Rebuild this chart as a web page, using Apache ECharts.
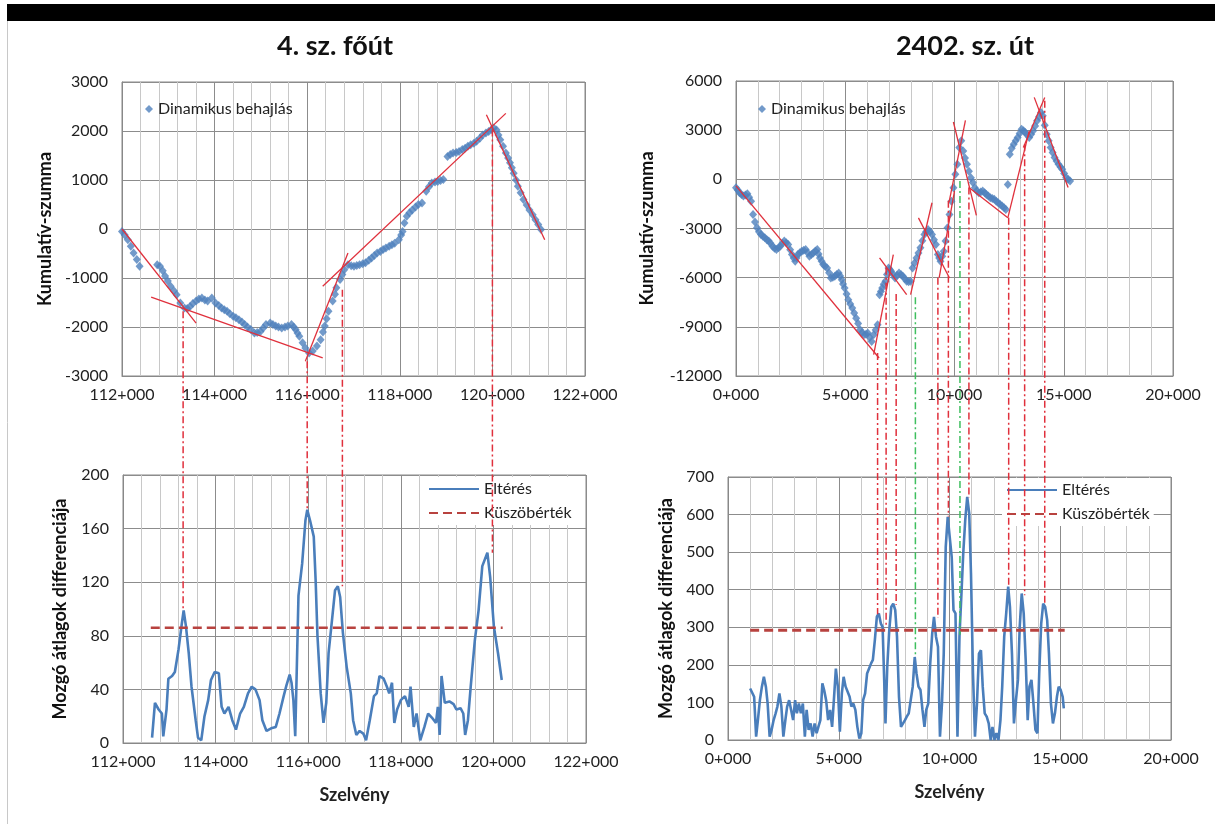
<!DOCTYPE html>
<html>
<head>
<meta charset="utf-8">
<style>
  body { margin: 0; background: #fff; }
  #main { width: 1215px; height: 824px; }
</style>
<script src="https://cdn.jsdelivr.net/npm/echarts@6/dist/echarts.min.js"></script>
</head>
<body>
<div id="main"></div>
<script>
// 4. sz. főút - kumulatív szumma (szelvény [m], érték)
var tlPoints = [
  [112000,-50],[112060,-120],[112126,-220],[112190,-350],[112250,-490],[112320,-620],[112380,-760],
  [112760,-730],[112820,-760],[112880,-850],[112930,-960],[112990,-1060],[113050,-1170],[113120,-1260],
  [113180,-1340],[113260,-1510],[113350,-1610],[113410,-1620],[113470,-1580],[113530,-1520],[113600,-1470],
  [113660,-1430],[113725,-1410],[113790,-1450],[113850,-1470],[113940,-1410],[114020,-1510],[114090,-1560],
  [114150,-1610],[114210,-1650],[114270,-1680],[114330,-1730],[114400,-1780],[114460,-1810],[114525,-1850],
  [114590,-1900],[114650,-1950],[114710,-2000],[114780,-2050],[114860,-2120],[114920,-2110],[114990,-2090],
  [115050,-2020],[115110,-1950],[115200,-1920],[115260,-1950],[115320,-1980],[115380,-2000],[115450,-2020],
  [115520,-2000],[115580,-1980],[115660,-1950],[115710,-2000],[115750,-2050],[115790,-2120],[115830,-2190],
  [115900,-2320],[115960,-2430],[116040,-2530],[116120,-2490],[116210,-2390],[116290,-2260],[116340,-2100],
  [116380,-1980],[116420,-1830],[116460,-1680],[116550,-1470],[116600,-1330],[116630,-1200],[116710,-1030],
  [116760,-930],[116800,-830],[116880,-730],[116950,-750],[117010,-760],[117070,-745],[117130,-730],
  [117200,-710],[117260,-690],[117330,-640],[117390,-590],[117450,-540],[117510,-490],[117580,-460],
  [117640,-420],[117700,-390],[117770,-350],[117830,-320],[117890,-290],[117980,-220],[118030,-120],
  [118060,-50],[118100,120],[118150,260],[118210,330],[118270,390],[118340,450],[118400,500],[118480,530],
  [118570,770],[118630,860],[118690,940],[118760,960],[118820,970],[118880,990],[118940,1010],[119030,1480],
  [119090,1520],[119150,1550],[119220,1560],[119280,1580],[119350,1620],[119410,1650],[119470,1690],
  [119530,1720],[119600,1750],[119660,1790],[119730,1850],[119790,1920],[119860,1960],[119920,1990],
  [119980,2030],[120030,2060],[120090,2020],[120130,1920],[120170,1820],[120230,1690],[120290,1550],
  [120340,1450],[120380,1350],[120420,1250],[120460,1140],[120510,1000],[120550,870],[120610,740],
  [120670,600],[120740,490],[120800,390],[120870,290],[120930,190],[120990,90],[121050,-10]
];
// illesztett szakaszok [x1,y1,x2,y2]
var tlFits = [
  [112000,0,113600,-1920],
  [112630,-1390,116335,-2630],
  [115960,-2700,116880,-490],
  [116335,-1170,120290,2360],
  [119870,2330,121130,-220]
];
// mozgó átlagok differenciája
var blDiff = [
  [112628,4],[112690,30],[112770,25],[112840,22],[112870,5],[112940,25],[112980,48],[113060,50],[113120,53],
  [113200,70],[113270,89],[113310,99],[113360,87],[113420,67],[113480,42],[113570,17],[113620,4],[113690,2],
  [113760,20],[113840,32],[113900,47],[113980,53],[114070,52],[114130,27],[114190,22],[114280,27],[114360,17],
  [114440,10],[114530,22],[114610,27],[114700,37],[114780,42],[114860,40],[114950,32],[115010,17],[115100,9],
  [115200,11],[115300,12],[115380,22],[115470,35],[115530,43],[115600,51],[115640,45],[115680,32],[115720,5],
  [115790,110],[115870,134],[115940,166],[115980,174],[116040,166],[116120,154],[116160,122],[116200,80],
  [116270,37],[116330,15],[116390,30],[116440,67],[116500,87],[116580,114],[116640,117],[116690,109],
  [116750,82],[116830,57],[116920,37],[116970,17],[117040,6],[117110,9],[117190,7],[117250,2],[117330,17],
  [117420,35],[117480,37],[117540,50],[117630,48],[117700,42],[117750,37],[117810,45],[117860,15],[117920,25],
  [118000,32],[118090,35],[118170,27],[118210,42],[118280,12],[118340,22],[118420,2],[118510,12],[118590,22],
  [118670,19],[118760,15],[118800,27],[118840,6],[118880,50],[118950,30],[119050,31],[119140,29],[119200,25],
  [119290,26],[119350,22],[119390,6],[119450,17],[119510,42],[119600,77],[119680,99],[119760,132],[119870,142],
  [119930,124],[120010,87],[120100,67],[120180,47]
];
var blThreshold = [[112600,86],[120200,86]];
// függőleges segédvonalak: [szelvény, felső pont, csúcs alul]
var tlGuides = [[113320,-1680,100],[116000,-2700,174],[116760,-1240,117],[120000,2030,142]];

// 2402. sz. út
var trPoints = [
  [0,-510],[80,-650],[160,-820],[250,-930],[340,-1020],[430,-950],[520,-880],[600,-1100],[690,-1330],
  [780,-2140],[870,-2600],[960,-2960],[1050,-3200],[1140,-3370],[1230,-3470],[1320,-3570],[1410,-3680],
  [1500,-3770],[1580,-3900],[1670,-4080],[1760,-4200],[1850,-4280],[1940,-4180],[2030,-4080],[2120,-3900],
  [2210,-3770],[2300,-3870],[2390,-3980],[2480,-4300],[2560,-4590],[2640,-4800],[2710,-5000],[2770,-4800],
  [2830,-4590],[2920,-4480],[3010,-4390],[3100,-4330],[3190,-4280],[3280,-4480],[3360,-4690],[3450,-4590],
  [3540,-4490],[3630,-4380],[3720,-4280],[3780,-4550],[3840,-4800],[3920,-5000],[3990,-5200],[4080,-5300],
  [4170,-5410],[4260,-5700],[4340,-6020],[4430,-5970],[4520,-5920],[4610,-5810],[4700,-5710],[4770,-5900],
  [4840,-6120],[4900,-6380],[4970,-6630],[5060,-7000],[5140,-7340],[5230,-7600],[5320,-7850],[5410,-8150],
  [5500,-8470],[5590,-8800],[5680,-9180],[5770,-9350],[5860,-9490],[5950,-9450],[6030,-9380],[6120,-9650],
  [6210,-9890],[6300,-9490],[6390,-9200],[6480,-8870],[6570,-7040],[6630,-6850],[6690,-6630],[6760,-6400],
  [6840,-6220],[6910,-5800],[6980,-5410],[7040,-5500],[7100,-5610],[7190,-5800],[7280,-6020],[7370,-5850],
  [7460,-5710],[7550,-5800],[7640,-5920],[7720,-6050],[7810,-6220],[7900,-6250],[7990,-6220],[8080,-5410],
  [8170,-5100],[8260,-4800],[8350,-4500],[8440,-4180],[8530,-3750],[8620,-3370],[8700,-3200],[8790,-3060],
  [8880,-3200],[8970,-3370],[9060,-3680],[9150,-3980],[9240,-4590],[9300,-4800],[9360,-5000],[9440,-4700],
  [9510,-4390],[9590,-3770],[9680,-2960],[9770,-2140],[9860,-1330],[9950,-510],[10040,310],[10130,920],
  [10220,1940],[10310,2350],[10400,1730],[10480,1300],[10570,920],[10660,500],[10750,100],[10840,-200],
  [10930,-510],[11020,-700],[11110,-820],[11200,-780],[11290,-710],[11380,-820],[11460,-920],[11550,-1020],
  [11640,-1120],[11730,-1170],[11820,-1220],[11910,-1330],[12000,-1430],[12090,-1530],[12180,-1630],
  [12270,-1740],[12350,-1840],[12440,-310],[12530,1530],[12620,1900],[12710,2140],[12800,2350],[12890,2550],
  [12980,2800],[13070,3060],[13160,2960],[13240,2860],[13330,2700],[13420,2550],[13510,2750],[13600,2960],
  [13690,3250],[13780,3570],[13870,3820],[13960,4080],[14040,3880],[14130,3300],[14220,2750],[14310,2350],
  [14400,1940],[14490,1630],[14580,1330],[14670,1120],[14760,920],[14850,760],[14930,610],[15020,350],
  [15110,100],[15200,0],[15290,-100]
];
var trFits = [
  [0,-400,6550,-10900],
  [6300,-10700,7200,-4600],
  [6570,-4790,7810,-7040],
  [7990,-7040,8970,-1430],
  [8350,-2350,9770,-6020],
  [9300,-6000,10000,-700],
  [9750,-1400,10500,3600],
  [9950,3500,11000,-2200],
  [10660,-500,12440,-2350],
  [12440,-2350,13420,2960],
  [13150,1940,14130,5000],
  [13650,5000,15200,-500]
];
var brDiff = [
  [1000,137],[1090,133],[1180,115],[1270,9],[1350,53],[1440,106],[1530,142],[1620,168],[1710,142],[1790,97],
  [1880,9],[1970,27],[2060,53],[2150,71],[2230,89],[2320,124],[2410,89],[2500,9],[2590,53],[2670,89],[2760,106],
  [2850,80],[2940,53],[3030,106],[3110,71],[3200,97],[3290,71],[3380,97],[3470,9],[3550,80],[3640,27],[3730,44],
  [3820,9],[3910,44],[4000,18],[4080,35],[4170,53],[4260,151],[4340,133],[4430,106],[4520,53],[4610,80],[4700,35],
  [4780,106],[4870,190],[4960,142],[5050,22],[5140,124],[5220,168],[5310,142],[5400,146],[5490,115],[5570,89],
  [5660,97],[5750,80],[5840,35],[5930,4],[6020,18],[6100,106],[6190,124],[6280,177],[6370,182],[6460,204],
  [6540,213],[6630,266],[6720,328],[6810,337],[6900,310],[6980,301],[7070,124],[7110,44],[7190,195],[7280,292],
  [7370,354],[7460,363],[7550,346],[7630,275],[7720,115],[7810,35],[7900,35],[7990,53],[8070,62],[8160,71],
  [8250,71],[8340,142],[8430,221],[8510,177],[8600,142],[8690,133],[8780,80],[8870,35],[8950,80],[9040,97],
  [9130,204],[9220,284],[9300,328],[9390,275],[9480,248],[9570,9],[9660,97],[9740,230],[9830,514],[9920,594],
  [10010,540],[10100,487],[10180,346],[10270,337],[10360,9],[10450,275],[10540,390],[10620,496],[10710,585],
  [10800,647],[10890,603],[10970,443],[11060,177],[11150,9],[11240,97],[11330,230],[11420,239],[11500,142],
  [11590,71],[11680,62],[11770,44],[11860,0],[11940,35],[12030,0],[12120,18],[12210,0],[12300,53],[12380,142],
  [12470,275],[12560,337],[12650,408],[12730,354],[12820,230],[12910,44],[13000,106],[13090,160],[13170,301],
  [13260,390],[13350,337],[13440,213],[13530,53],[13610,142],[13700,160],[13790,97],[13880,27],[13970,18],
  [14050,177],[14140,310],[14230,363],[14320,354],[14410,319],[14490,230],[14580,97],[14670,44],[14760,71],
  [14850,115],[14930,142],[15020,133],[15110,115],[15160,84]
];
var brThreshold = [[1000,292],[15200,292]];
// [szelvény, felső pont, csúcs alul, szín]
var trGuides = [
  [6480,-10600,335,'r'],[6870,-5400,300,'r'],[7330,-7000,360,'r'],[8210,-7200,220,'g'],
  [9240,-6000,325,'r'],[9720,-1300,595,'r'],[10250,-100,280,'g'],[10660,-500,645,'r'],
  [12480,-2350,405,'r'],[13210,2140,385,'r'],[14130,4800,365,'r']
];

var FONT = 'Lato';
var RED = '#e0303c';
var GREEN = '#3fbf5f';
var BLUE = '#4a7ebb';

function station(v) {
  var km = Math.floor(v / 1000);
  var m = v - km * 1000;
  return km + '+' + String(m).padStart(3, '0');
}

function fitLines(fits) {
  return fits.map(function (f) {
    return [{ coord: [f[0], f[1]] }, { coord: [f[2], f[3]] }];
  });
}

function xAxis(grid, min, max, interval, name) {
  return {
    type: 'value', gridIndex: grid, min: min, max: max, interval: interval,
    name: name || '', nameLocation: 'middle', nameGap: 43,
    nameTextStyle: { fontFamily: FONT, fontWeight: 'bold', fontSize: 18, color: '#222' },
    axisLine: { show: true, onZero: false, lineStyle: { color: '#888' } },
    axisTick: { show: false },
    axisLabel: { formatter: station, color: '#222', fontSize: 16, fontFamily: FONT, margin: 11 },
    splitLine: { show: true, lineStyle: { color: '#8c8c8c' } },
    minorTick: { show: false, splitNumber: 5 },
    minorSplitLine: { show: true, lineStyle: { color: '#c8c8c8' } }
  };
}

function yAxis(grid, min, max, interval, name, gap) {
  return {
    type: 'value', gridIndex: grid, min: min, max: max, interval: interval,
    name: name, nameLocation: 'middle', nameGap: gap,
    nameTextStyle: { fontFamily: FONT, fontWeight: 'bold', fontSize: 18, color: '#111' },
    axisLine: { show: true, onZero: false, lineStyle: { color: '#888' } },
    axisTick: { show: false },
    axisLabel: { formatter: function (v) { return String(v); }, color: '#222', fontSize: 16, fontFamily: FONT, margin: 14 },
    splitLine: { show: true, lineStyle: { color: '#8c8c8c' } }
  };
}

var legendText = { fontFamily: FONT, fontSize: 16, color: '#222' };

var chart = echarts.init(document.getElementById('main'));

var option = {
  backgroundColor: '#fff',
  animation: false,
  title: [
    { text: '4. sz. főút', left: 330, top: 28, textAlign: 'center',
      textStyle: { fontFamily: FONT, fontWeight: 'bold', fontSize: 27, color: '#111' } },
    { text: '2402. sz. út', left: 960, top: 28, textAlign: 'center',
      textStyle: { fontFamily: FONT, fontWeight: 'bold', fontSize: 27, color: '#111' } }
  ],
  grid: [
    { left: 122, top: 82, width: 463, height: 294, show: true, borderColor: '#888' },
    { left: 123, top: 475, width: 463, height: 268, show: true, borderColor: '#888' },
    { left: 736, top: 81, width: 437, height: 295, show: true, borderColor: '#888' },
    { left: 728, top: 477, width: 443, height: 263, show: true, borderColor: '#888' }
  ],
  xAxis: [
    xAxis(0, 112000, 122000, 2000),
    xAxis(1, 112000, 122000, 2000, 'Szelvény'),
    xAxis(2, 0, 20000, 5000),
    xAxis(3, 0, 20000, 5000, 'Szelvény')
  ],
  yAxis: [
    yAxis(0, -3000, 3000, 1000, 'Kumulatív-szumma', 68),
    yAxis(1, 0, 200, 40, 'Mozgó átlagok differenciája', 54),
    yAxis(2, -12000, 6000, 3000, 'Kumulatív-szumma', 80),
    yAxis(3, 0, 700, 100, 'Mozgó átlagok differenciája', 53)
  ],
  legend: [
    { left: 140, top: 96, data: ['Dinamikus behajlás'], itemWidth: 8, itemHeight: 8, textStyle: legendText },
    { left: 753, top: 96, data: ['Dinamikus behajlás'], itemWidth: 8, itemHeight: 8, textStyle: legendText },
    { left: 424, top: 477, orient: 'vertical', data: ['Eltérés', 'Küszöbérték'], itemWidth: 50, itemHeight: 12,
      itemGap: 8, backgroundColor: '#fff', padding: [4, 4, 4, 4], textStyle: legendText,
      itemStyle: { opacity: 0 } },
    { left: 1002, top: 478, orient: 'vertical', data: ['Eltérés', 'Küszöbérték'], itemWidth: 50, itemHeight: 12,
      itemGap: 8, backgroundColor: '#fff', padding: [4, 4, 4, 4], textStyle: legendText,
      itemStyle: { opacity: 0 } }
  ],
  series: [
    {
      name: 'Dinamikus behajlás', type: 'scatter', xAxisIndex: 0, yAxisIndex: 0,
      symbol: 'diamond', symbolSize: [8, 9], itemStyle: { color: '#4f81bd' },
      data: tlPoints,
      markLine: { silent: true, symbol: 'none', label: { show: false },
        lineStyle: { color: RED, width: 1.3, type: 'solid' }, data: fitLines(tlFits) }
    },
    {
      name: 'Eltérés', type: 'line', xAxisIndex: 1, yAxisIndex: 1, symbol: 'none',
      lineStyle: { color: BLUE, width: 2.6 }, itemStyle: { color: BLUE }, data: blDiff
    },
    {
      name: 'Küszöbérték', type: 'line', xAxisIndex: 1, yAxisIndex: 1, symbol: 'none',
      lineStyle: { color: '#b8423f', width: 2.6, type: [9, 5] }, itemStyle: { color: '#b8423f' }, data: blThreshold
    },
    {
      name: 'Dinamikus behajlás', type: 'scatter', xAxisIndex: 2, yAxisIndex: 2,
      symbol: 'diamond', symbolSize: [8, 9], itemStyle: { color: '#4f81bd' },
      data: trPoints,
      markLine: { silent: true, symbol: 'none', label: { show: false },
        lineStyle: { color: RED, width: 1.3, type: 'solid' }, data: fitLines(trFits) }
    },
    {
      name: 'Eltérés', type: 'line', xAxisIndex: 3, yAxisIndex: 3, symbol: 'none',
      lineStyle: { color: BLUE, width: 2.6 }, itemStyle: { color: BLUE }, data: brDiff
    },
    {
      name: 'Küszöbérték', type: 'line', xAxisIndex: 3, yAxisIndex: 3, symbol: 'none',
      lineStyle: { color: '#b8423f', width: 3, type: [9, 5] }, itemStyle: { color: '#b8423f' }, data: brThreshold
    }
  ]
};

chart.setOption(option);

// frame and guide lines (positions taken from the axes)
var elements = [
  { type: 'rect', shape: { x: 7, y: 4, width: 1208, height: 17 }, style: { fill: '#000' }, z: 50 },
  { type: 'line', shape: { x1: 7.5, y1: 21, x2: 7.5, y2: 824 }, style: { stroke: '#c8c8c8', lineWidth: 1 }, z: 50 }
];

function guide(topGrid, bottomGrid, x, yTop, peak, color) {
  var p1 = chart.convertToPixel({ gridIndex: topGrid }, [x, yTop]);
  var p2 = chart.convertToPixel({ gridIndex: bottomGrid }, [x, peak]);
  return {
    type: 'line', silent: true, z: 60,
    shape: { x1: p1[0], y1: p1[1], x2: p1[0], y2: p2[1] },
    style: { stroke: color, lineWidth: 1.5, lineDash: [7, 3, 2, 3] }
  };
}

tlGuides.forEach(function (g) {
  elements.push(guide(0, 1, g[0], g[1], g[2], RED));
});
trGuides.forEach(function (g) {
  elements.push(guide(2, 3, g[0], g[1], g[2], g[3] === 'g' ? GREEN : RED));
});

chart.setOption({ graphic: { elements: elements } });
</script>
</body>
</html>
